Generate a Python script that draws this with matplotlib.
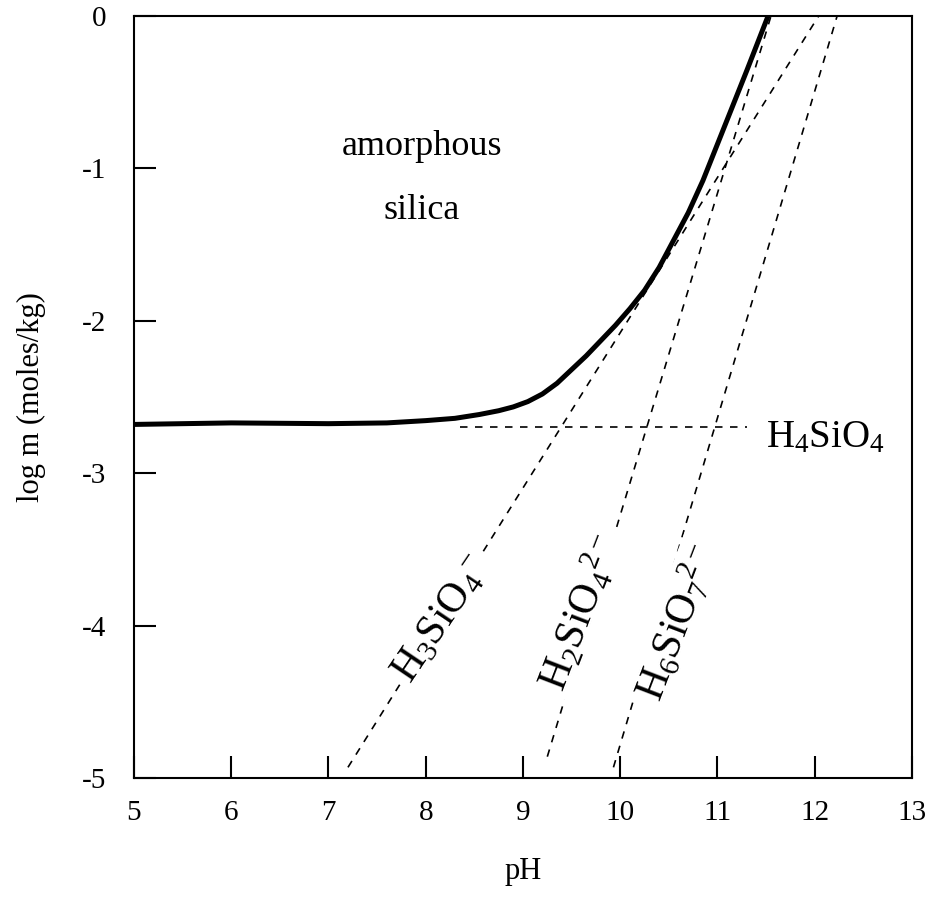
import numpy as np
import matplotlib
matplotlib.use("Agg")
import matplotlib.pyplot as plt

plt.rcParams['font.family'] = ['Liberation Serif', 'DejaVu Serif']
plt.rcParams['mathtext.fontset'] = 'custom'
plt.rcParams['mathtext.rm'] = 'Liberation Serif'
plt.rcParams['mathtext.it'] = 'Liberation Serif:italic'
plt.rcParams['mathtext.bf'] = 'Liberation Serif:bold'

# solubilidad total de la silice amorfa (linea gruesa)
total_ph = [5.0, 6.0, 7.0, 7.6, 8.0, 8.3, 8.55, 8.75, 8.9, 9.05, 9.2, 9.35, 9.5,
            9.65, 9.8, 9.95, 10.1, 10.25, 10.4, 10.55, 10.7, 10.85, 11.0, 11.15,
            11.3, 11.52]
total_logm = [-2.68, -2.67, -2.675, -2.67, -2.655, -2.64, -2.615, -2.59, -2.565,
              -2.53, -2.48, -2.41, -2.32, -2.23, -2.13, -2.03, -1.92, -1.80, -1.65,
              -1.47, -1.29, -1.08, -0.84, -0.60, -0.36, 0.0]

# especies (lineas discontinuas)
h4_ph = [8.35, 11.3]
h4_logm = [-2.70, -2.70]
h3_ph = [7.2, 12.04]
h3_logm = [-4.93, 0.0]
h2_ph = [9.25, 11.55]
h2_logm = [-4.86, 0.0]
h6_ph = [9.93, 12.23]
h6_logm = [-4.93, 0.0]

xticks = [5, 6, 7, 8, 9, 10, 11, 12, 13]
yticks = [0, -1, -2, -3, -4, -5]

fig = plt.figure(figsize=(9.26, 8.98), dpi=100)
ax = fig.add_axes([134 / 926, 120 / 898, 778 / 926, 762 / 898])

dash = (0, (4.5, 4.5))
ax.plot(total_ph, total_logm, color='black', lw=3.6, solid_capstyle='butt',
        solid_joinstyle='round')
for xs, ys in [(h4_ph, h4_logm), (h3_ph, h3_logm), (h2_ph, h2_logm), (h6_ph, h6_logm)]:
    ax.plot(xs, ys, color='black', lw=1.2, linestyle=dash)

box = dict(facecolor='white', edgecolor='none', pad=4)
ax.text(7.96, -0.91, 'amorphous', fontsize=26, ha='center', va='baseline')
ax.text(7.96, -1.33, 'silica', fontsize=26, ha='center', va='baseline')
ax.text(11.5, -2.83, r'H$_4$SiO$_4$', fontsize=28, ha='left', va='baseline')
ax.text(8.17, -3.96, r'H$_3$SiO$_4$$^{-}$', fontsize=30, rotation=56,
        rotation_mode='anchor', ha='center', va='center', bbox=box)
ax.text(9.6, -3.92, r'H$_2$SiO$_4$$^{2-}$', fontsize=30, rotation=69,
        rotation_mode='anchor', ha='center', va='center', bbox=box)
ax.text(10.6, -3.98, r'H$_6$SiO$_7$$^{2-}$', fontsize=30, rotation=69,
        rotation_mode='anchor', ha='center', va='center', bbox=box)

ax.set_xlim(5, 13)
ax.set_ylim(-5, 0)
ax.set_xticks(xticks)
ax.set_yticks(yticks)
ax.set_xticklabels([str(t) for t in xticks])
ax.set_yticklabels([str(t) for t in yticks])
ax.tick_params(direction='in', length=16, width=1.5, labelsize=21)
ax.tick_params(axis='x', pad=16)
ax.tick_params(axis='y', pad=20)
for s in ax.spines.values():
    s.set_linewidth(1.5)

ax.set_xlabel('pH', fontsize=22, labelpad=22)
ax.set_ylabel('log m (moles/kg)', fontsize=22, labelpad=26)

fig.savefig('out.png', dpi=100)
